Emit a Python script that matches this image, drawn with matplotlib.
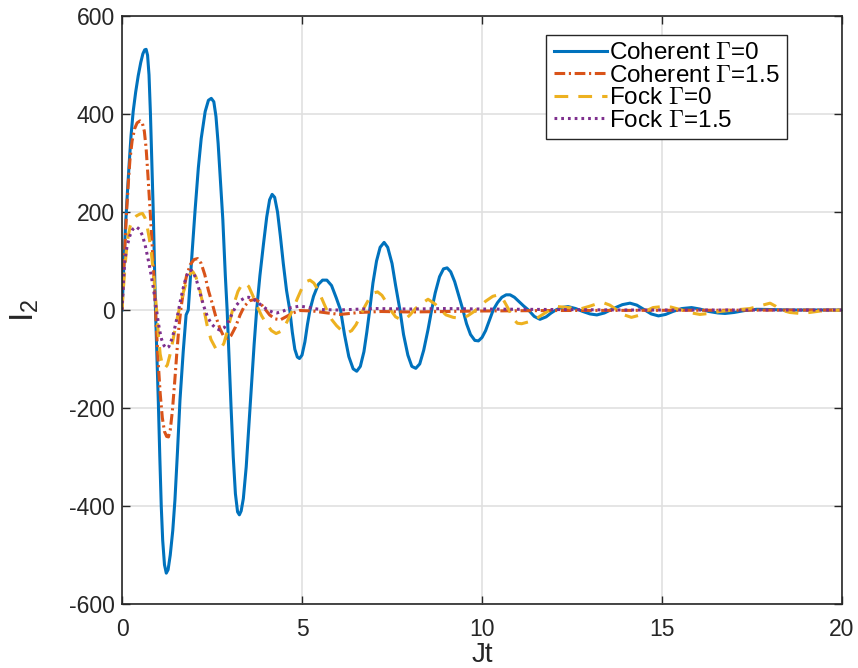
import matplotlib
matplotlib.use('Agg')
import matplotlib.pyplot as plt

plt.rcParams['font.family'] = ['Liberation Sans', 'DejaVu Sans']
plt.rcParams['mathtext.fontset'] = 'cm'
plt.rcParams['axes.unicode_minus'] = False

# I_2 versus Jt for the four cases
t_coh0 = [0, 0.03, 0.06, 0.1, 0.15, 0.2, 0.25, 0.31, 0.38, 0.45, 0.52, 0.58,
          0.63, 0.67, 0.71, 0.75, 0.79, 0.83, 0.87, 0.9, 0.93, 0.97, 1.01, 1.05,
          1.09, 1.13, 1.18, 1.23, 1.28, 1.34, 1.41, 1.47, 1.54, 1.61, 1.7, 1.78,
          1.84, 1.94, 2.03, 2.12, 2.2, 2.31, 2.4, 2.48, 2.55, 2.61, 2.67, 2.73,
          2.8, 2.87, 2.92, 2.97, 3.03, 3.09, 3.15, 3.21, 3.26, 3.31, 3.37, 3.45,
          3.52, 3.6, 3.67, 3.74, 3.83, 3.93, 4.02, 4.1, 4.17, 4.24, 4.32, 4.4,
          4.48, 4.57, 4.66, 4.73, 4.8, 4.87, 4.93, 5.0, 5.08, 5.15, 5.22, 5.32,
          5.45, 5.57, 5.69, 5.82, 5.95, 6.07, 6.18, 6.3, 6.42, 6.52, 6.62, 6.72,
          6.8, 6.88, 6.97, 7.07, 7.17, 7.28, 7.38, 7.5, 7.6, 7.72, 7.82, 7.94,
          8.05, 8.16, 8.27, 8.38, 8.5, 8.6, 8.7, 8.82, 8.93, 9.03, 9.13, 9.24,
          9.35, 9.47, 9.57, 9.68, 9.8, 9.9, 10.0, 10.1, 10.2, 10.31, 10.43, 10.55,
          10.67, 10.78, 10.9, 11.03, 11.16, 11.29, 11.45, 11.61, 11.78, 11.92,
          12.05, 12.2, 12.39, 12.6, 12.8, 13.0, 13.19, 13.4, 13.65, 13.9, 14.11,
          14.3, 14.5, 14.7, 14.9, 15.1, 15.3, 15.55, 15.82, 16.05, 16.3, 16.55,
          16.75, 17.0, 17.3, 17.63, 18.0, 18.5, 20]
y_coh0 = [0, 50, 110, 175, 240, 300, 355, 405, 445, 478, 505, 523,
          531, 532, 520, 480, 400, 300, 195, 100, 0, -95, -190, -300,
          -400, -470, -520, -537, -530, -500, -450, -388, -290, -184, -85, -10,
          0, 110, 204, 290, 350, 405, 428, 432, 425, 395, 340, 270,
          185, 70, 0, -90, -200, -300, -375, -412, -418, -410, -385, -320,
          -240, -150, -70, 0, 70, 135, 190, 225, 236, 230, 200, 150,
          95, 40, 0, -45, -80, -96, -99, -92, -65, -30, 0, 28,
          52, 61, 61, 50, 25, 0, -50, -95, -120, -125, -115, -85,
          -45, 0, 55, 100, 128, 138, 128, 95, 50, 0, -50, -92,
          -115, -119, -110, -82, -40, 0, 35, 68, 84, 86, 78, 58,
          30, 0, -28, -50, -62, -63, -56, -42, -22, 0, 15, 26,
          31, 31, 26, 17, 8, 0, -13, -19, -14, -6,
          0, 5, 7, 3, -3, -8, -10, -6, 3, 11, 14,
          10, 1, -8, -12, -9, -3, 3, 5, 2, -3, -6,
          -7, -5, -1, 1.5, 1, 0, 0]

t_coh15 = [0, 0.03, 0.06, 0.1, 0.13, 0.18, 0.22, 0.28, 0.35, 0.42, 0.5, 0.56,
           0.62, 0.67, 0.72, 0.78, 0.84, 0.9, 0.95, 1.0, 1.06, 1.12, 1.18, 1.24,
           1.29, 1.34, 1.4, 1.46, 1.52, 1.58, 1.64, 1.72, 1.8, 1.9, 2.0, 2.1,
           2.2, 2.3, 2.4, 2.5, 2.6, 2.72, 2.82, 2.93, 3.03, 3.15, 3.28, 3.4,
           3.55, 3.7, 3.82, 3.95, 4.1, 4.25, 4.4, 4.55, 4.75, 4.94, 5.3, 5.7,
           6.06, 6.6, 7.2, 8, 9, 10, 12, 20]
y_coh15 = [0, 50, 100, 160, 204, 265, 306, 345, 370, 382, 386, 383,
           365, 330, 275, 204, 130, 50, -30, -100, -170, -220, -248, -258,
           -259, -245, -205, -150, -90, -35, 5, 45, 72, 93, 103, 105,
           95, 72, 40, 15, -12, -38, -53, -58, -52, -35, -10, 8,
           19, 22, 16, 4, -10, -18, -20, -14, -6, -1, -2, -6,
           -9, -5, -3, -4, -3, -2, -1, 0]

t_fock0 = [0, 0.04, 0.08, 0.12, 0.17, 0.23, 0.3, 0.4, 0.5, 0.57, 0.64, 0.7,
           0.76, 0.81, 0.86, 0.91, 0.96, 1.01, 1.06, 1.12, 1.19, 1.26, 1.33, 1.42,
           1.51, 1.6, 1.7, 1.8, 1.9, 1.97, 2.05, 2.15, 2.26, 2.36, 2.47, 2.6,
           2.72, 2.83, 2.93, 3.03, 3.12, 3.22, 3.33, 3.42, 3.52, 3.63, 3.75, 3.88,
           4.02, 4.15, 4.28, 4.4, 4.52, 4.63, 4.75, 4.88, 5.0, 5.12, 5.22, 5.33,
           5.45, 5.58, 5.7, 5.83, 5.96, 6.1, 6.25, 6.38, 6.5, 6.62, 6.75, 6.88,
           7.0, 7.1, 7.22, 7.35, 7.48, 7.6, 7.75, 7.88, 8.0, 8.15, 8.3, 8.5,
           8.7, 8.85, 9.0, 9.2, 9.4, 9.6, 9.8, 9.95, 10.1, 10.3, 10.45, 10.6,
           10.75, 10.87, 10.98, 11.1, 11.3, 11.52, 11.75, 11.95, 12.1, 12.4, 12.72,
           13.0, 13.2, 13.37, 13.55, 13.75, 13.95, 14.15, 14.35, 14.55, 14.75,
           15.0, 15.25, 15.5, 15.75, 16.05, 16.3, 16.6, 17.0, 17.44, 17.7, 18.0,
           18.15, 18.3, 18.55, 18.83, 19.1, 19.4, 20]
y_fock0 = [0, 45, 85, 120, 150, 172, 184, 192, 196, 197, 188, 170,
           145, 120, 85, 45, 0, -50, -90, -112, -119, -112, -92, -60,
           -25, 5, 35, 60, 75, 78, 68, 45, 7, -30, -60, -78,
           -82, -68, -42, -12, 15, 38, 52, 55, 48, 30, 8, -12,
           -29, -42, -48, -44, -33, -17, 2, 25, 45, 58, 61, 55,
           40, 18, -2, -20, -32, -42, -47, -42, -30, -12, 8, 25,
           35, 37, 30, 15, -2, -14, -20, -18, -10, 3, 12, 22,
           12, 0, -10, -15, -17, -12, -2, 8, 18, 28, 31, 20,
           0, -18, -27, -28, -24, -17, -6, 3, 7, 5, 2,
           8, 13, 15, 10, 0, -10, -15, -11, -2, 5,
           7, 6, 1, -5, -9, -7, -3, 0, 3, 8, 14,
           8, 0, -5, -7, -5, -2, 0]

t_fock15 = [0, 0.04, 0.08, 0.14, 0.22, 0.3, 0.39, 0.48, 0.57, 0.65, 0.73, 0.8,
            0.87, 0.93, 0.98, 1.04, 1.1, 1.17, 1.23, 1.3, 1.37, 1.44, 1.5, 1.56,
            1.63, 1.7, 1.78, 1.86, 1.93, 2.0, 2.08, 2.17, 2.27, 2.37, 2.48, 2.6,
            2.72, 2.84, 2.95, 3.07, 3.18, 3.3, 3.42, 3.52, 3.65, 3.78, 3.9, 4.05,
            4.2, 4.3, 4.48, 4.7, 4.94, 5.2, 5.5, 6, 7, 8, 9, 10, 12, 14, 20]
y_fock15 = [0, 60, 102, 130, 152, 165, 170, 165, 152, 130, 102, 75,
            45, 15, -12, -40, -60, -73, -78, -75, -62, -45, -25, -5,
            22, 45, 67, 80, 81, 74, 58, 34, 8, -13, -28, -37,
            -41, -36, -24, -6, 10, 20, 25, 26, 22, 15, 8, 0,
            -5, -6, -2, 5, 8, 5, 1, 0, 3, 2, 3, 2, 1, 0, 0]

labels = [r'Coherent $\Gamma$=0', r'Coherent $\Gamma$=1.5',
          r'Fock $\Gamma$=0', r'Fock $\Gamma$=1.5']

fig = plt.figure(figsize=(8.58, 6.68), dpi=100)
ax = fig.add_axes([0.1422, 0.0958, 0.8392, 0.8802])

ax.plot(t_coh0, y_coh0, color='#0072BD', lw=2.2, label=labels[0])
ax.plot(t_coh15, y_coh15, color='#D95319', lw=2.2,
        linestyle=(0, (3.5, 1.2, 0.7, 1.2)), label=labels[1])
ax.plot(t_fock0, y_fock0, color='#EDB120', lw=2.2,
        linestyle=(0, (4.5, 3.3)), label=labels[2])
ax.plot(t_fock15, y_fock15, color='#7E2F8E', lw=2.2,
        linestyle=(0, (0.9, 1.3)), label=labels[3])

ax.set_xlim(0, 20)
ax.set_ylim(-600, 600)
ax.set_xticks([0, 5, 10, 15, 20])
ax.set_yticks([-600, -400, -200, 0, 200, 400, 600])
ax.grid(True, color='#e0e0e0', lw=1.2)
ax.set_axisbelow(True)

for s in ax.spines.values():
    s.set_color('#262626')
    s.set_linewidth(1.2)
ax.tick_params(direction='in', length=6, width=1.0, colors='#262626',
               labelsize=16.5, top=True, right=True)
ax.tick_params(axis='y', pad=5)
ax.tick_params(axis='x', pad=10)

ax.set_xlabel('Jt', fontsize=20, color='#262626', labelpad=1)
ax.set_ylabel(r'$\mathregular{I_2}$', fontsize=24, color='#262626', labelpad=20)

leg = ax.legend(loc='upper right', bbox_to_anchor=(0.924, 0.968),
                borderaxespad=0, fontsize=17.5, handlelength=2.2,
                handletextpad=0.1, labelspacing=0.02, borderpad=0.3,
                fancybox=False, framealpha=1)
leg.get_frame().set_edgecolor('#262626')
leg.get_frame().set_linewidth(1.0)

fig.savefig('out.png', dpi=100)
